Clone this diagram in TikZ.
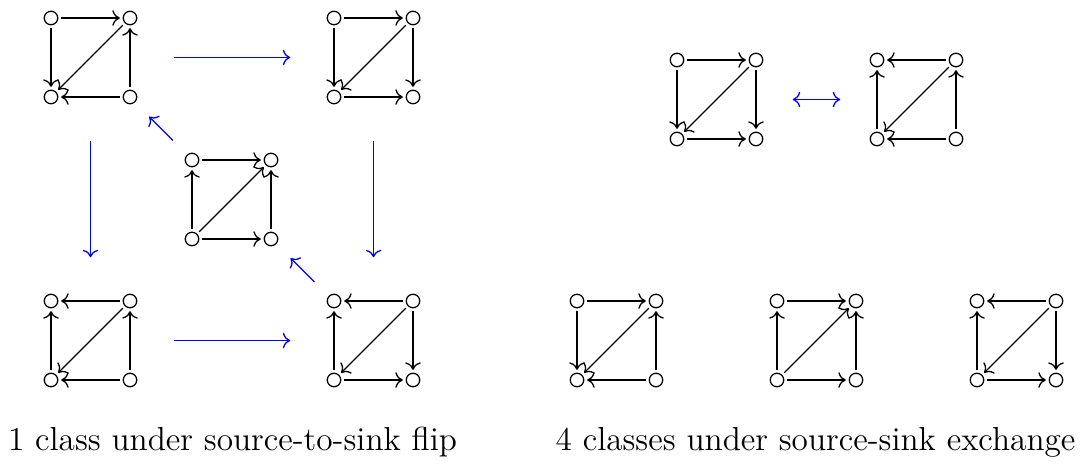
\documentclass[tikz,border=0pt]{standalone}
\usetikzlibrary{calc,arrows.meta}
\tikzset{
  >={Computer Modern Rightarrow},
  vtx/.style={circle,draw,line width=0.45pt,inner sep=0pt,minimum size=4.7pt,outer sep=1.2pt},
  edge/.style={->,line width=0.45pt},
  flip/.style={->,blue,line width=0.45pt,shorten <=29pt,shorten >=29pt},
  swap/.style={<->,blue,line width=0.45pt,shorten <=26.6pt,shorten >=26.6pt},
  lbl/.style={anchor=base,inner sep=0pt,font=\fontsize{11.6}{14}\selectfont}
}
\newcommand{\mysq}[3]{%
  \begin{scope}[shift={(#2,#3)}]
    \node[vtx] (#1a) at (0,0) {};
    \node[vtx] (#1b) at (79,0) {};
    \node[vtx] (#1c) at (0,79) {};
    \node[vtx] (#1d) at (79,79) {};
    \coordinate (#1) at (39.5,39.5);
  \end{scope}}
\begin{document}
\begin{tikzpicture}[x=0.3484pt,y=-0.3484pt]
\useasboundingbox (0,0) rectangle (1081,466);
% left part
\mysq{s1}{51}{18}
\mysq{s2}{334}{18}
\mysq{s3}{192}{160}
\mysq{s4}{51}{301}
\mysq{s5}{334}{301}
% right part
\mysq{r1}{677}{60}
\mysq{r2}{877}{60}
\mysq{t1}{577}{301}
\mysq{t2}{777}{301}
\mysq{t3}{977}{301}
% s1
\draw[edge] (s1a) -- (s1b); \draw[edge] (s1a) -- (s1c); \draw[edge] (s1b) -- (s1c);
\draw[edge] (s1d) -- (s1b); \draw[edge] (s1d) -- (s1c);
% s2
\draw[edge] (s2a) -- (s2b); \draw[edge] (s2a) -- (s2c); \draw[edge] (s2b) -- (s2c);
\draw[edge] (s2b) -- (s2d); \draw[edge] (s2c) -- (s2d);
% s3
\draw[edge] (s3a) -- (s3b); \draw[edge] (s3c) -- (s3a); \draw[edge] (s3c) -- (s3b);
\draw[edge] (s3d) -- (s3b); \draw[edge] (s3c) -- (s3d);
% s4
\draw[edge] (s4b) -- (s4a); \draw[edge] (s4c) -- (s4a); \draw[edge] (s4b) -- (s4c);
\draw[edge] (s4d) -- (s4b); \draw[edge] (s4d) -- (s4c);
% s5
\draw[edge] (s5b) -- (s5a); \draw[edge] (s5c) -- (s5a); \draw[edge] (s5b) -- (s5c);
\draw[edge] (s5b) -- (s5d); \draw[edge] (s5c) -- (s5d);
% r1
\draw[edge] (r1a) -- (r1b); \draw[edge] (r1a) -- (r1c); \draw[edge] (r1b) -- (r1c);
\draw[edge] (r1b) -- (r1d); \draw[edge] (r1c) -- (r1d);
% r2
\draw[edge] (r2b) -- (r2a); \draw[edge] (r2c) -- (r2a); \draw[edge] (r2b) -- (r2c);
\draw[edge] (r2d) -- (r2b); \draw[edge] (r2d) -- (r2c);
% t1
\draw[edge] (t1a) -- (t1b); \draw[edge] (t1a) -- (t1c); \draw[edge] (t1b) -- (t1c);
\draw[edge] (t1d) -- (t1b); \draw[edge] (t1d) -- (t1c);
% t2
\draw[edge] (t2a) -- (t2b); \draw[edge] (t2c) -- (t2a); \draw[edge] (t2c) -- (t2b);
\draw[edge] (t2d) -- (t2b); \draw[edge] (t2c) -- (t2d);
% t3
\draw[edge] (t3b) -- (t3a); \draw[edge] (t3c) -- (t3a); \draw[edge] (t3b) -- (t3c);
\draw[edge] (t3b) -- (t3d); \draw[edge] (t3c) -- (t3d);
% blue arrows
\draw[flip] (s1) -- (s2);
\draw[flip] (s2) -- (s5);
\draw[flip] (s1) -- (s4);
\draw[flip] (s4) -- (s5);
\draw[flip] (s3) -- (s1);
\draw[flip] (s5) -- (s3);
\draw[swap] (r1) -- (r2);
% labels
\node[lbl] (L1) at (232.5,450) {1 class under source-to-sink flip};
\node[lbl] (L2) at (815.5,450) {4 classes under source-sink exchange};
\end{tikzpicture}
\end{document}
